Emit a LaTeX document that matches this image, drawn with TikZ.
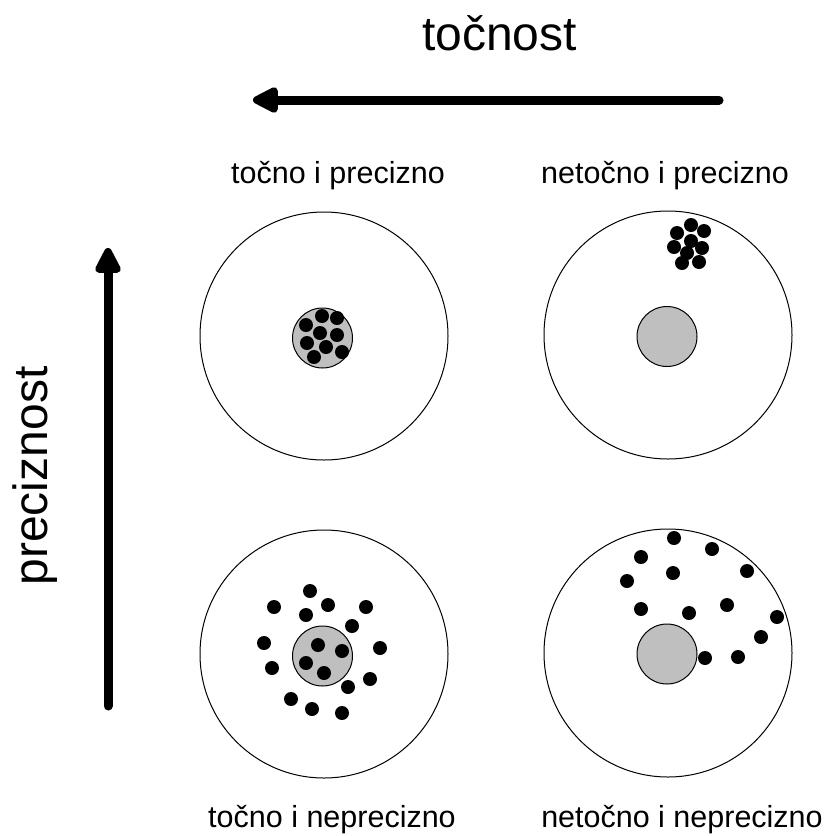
\documentclass[tikz,border=0pt]{standalone}
\usepackage{fontspec}
\setmainfont{Liberation Sans}
\usepackage{tikz}
\usetikzlibrary{arrows.meta}

\begin{document}
\begin{tikzpicture}[
  x=1pt, y=-1pt,
  target/.style={draw=black, line width=1pt, fill=white},
  bullseye/.style={draw=black, line width=1pt, fill=black!25},
  hit/.style={fill=black},
  axis/.style={-{Triangle[length=30pt, width=28pt, round]}, line width=9pt, line cap=round},
  title/.style={font=\fontsize{48}{52}\selectfont, anchor=base, inner sep=0pt},
  caption/.style={font=\fontsize{30.5}{34}\selectfont, anchor=base, inner sep=0pt}
]
  \useasboundingbox (0,0) rectangle (827,836);

  %% ── axes ──────────────────────────────────────────────────────────
  \node[title] (acc) at (499.5,50) {točnost};
  \node[title, rotate=90] (prec) at (47,476) {preciznost};
  \coordinate (accR) at (719,100);
  \coordinate (accL) at (253,100);
  \coordinate (precB) at (108,706);
  \coordinate (precT) at (108,248);
  \draw[axis] (accR) -- (accL);
  \draw[axis] (precB) -- (precT);

  %% ── four targets ──────────────────────────────────────────────────
  \draw[target] (324,336) circle (124);
  \draw[target] (668,335) circle (124);
  \draw[target] (324,654) circle (124);
  \draw[target] (668,653) circle (124);
  \draw[bullseye] (322.5,338) circle (30);
  \draw[bullseye] (667,336.5) circle (30);
  \draw[bullseye] (322.5,656) circle (30);
  \draw[bullseye] (667,654) circle (30);

  %% ── labels ────────────────────────────────────────────────────────
  \node[caption] (tp) at (338,183) {točno i precizno};
  \node[caption] (np) at (665,183) {netočno i precizno};
  \node[caption] (tn) at (332,827) {točno i neprecizno};
  \node[caption] (nn) at (682,827) {netočno i neprecizno};

  %% ── hits ──────────────────────────────────────────────────────────
  % top left
  \foreach \x/\y in {306/325, 322/316, 337/318, 320/333, 337/335,
                     307/343, 326/347, 342/352, 314/357}
    \fill[hit] (\x,\y) circle (7);
  % top right
  \foreach \x/\y in {691/225, 704/231, 677/233, 691/241, 674/247,
                     702/248, 687/253, 682/263, 699/262}
    \fill[hit] (\x,\y) circle (7);
  % bottom left
  \foreach \x/\y in {310/591, 274/607, 328/605, 366/607, 306/615, 352/626,
                     264/643, 318/645, 342/651, 380/648, 272/668, 306/663,
                     324/673, 370/679, 348/687, 291/699, 312/709, 342/713}
    \fill[hit] (\x,\y) circle (7);
  % bottom right
  \foreach \x/\y in {674/538, 712/549, 641/557, 673/573, 747/571, 627/581,
                     641/609, 727/605, 689/613, 777/617, 761/637, 705/658,
                     738/657}
    \fill[hit] (\x,\y) circle (7);
\end{tikzpicture}
\end{document}
